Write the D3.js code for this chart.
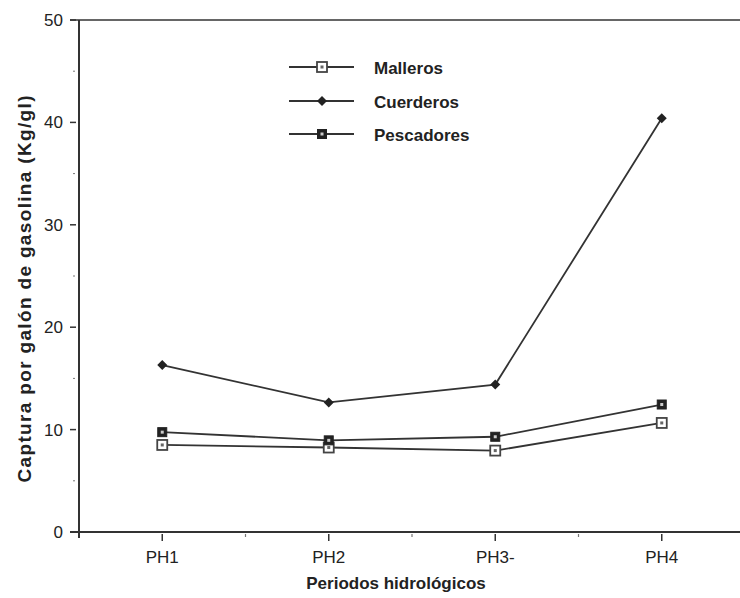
<!DOCTYPE html>
<html>
<head>
<meta charset="utf-8">
<script src="https://cdn.jsdelivr.net/npm/d3@7"></script>
<style>
  body { margin: 0; background: #fff; }
  text { font-family: "Liberation Sans", Arial, sans-serif; fill: #222; }
</style>
</head>
<body>
<div id="chart"></div>
<script>
// Data
const categories = ["PH1", "PH2", "PH3", "PH4"];
const tickLabels = ["PH1", "PH2", "PH3-", "PH4"];
const malleros = [8.5, 8.25, 7.95, 10.65];
const cuerderos = [16.3, 12.65, 14.4, 40.4];
const pescadores = [9.75, 8.95, 9.3, 12.45];
const yTicks = [0, 10, 20, 30, 40, 50];
const yMinor = [5, 15, 25, 35, 45];

const series = [
  { name: "Malleros", values: malleros, marker: "open" },
  { name: "Cuerderos", values: cuerderos, marker: "diamond" },
  { name: "Pescadores", values: pescadores, marker: "filled" }
];

const width = 740, height = 598;
const svg = d3.select("#chart").append("svg")
    .attr("width", width)
    .attr("height", height);

// categories sit at 1,3,5,7 of an 8-step band starting at the y axis
const x = d3.scaleLinear().domain([0, 8]).range([79, 745]);
const catPos = d => 1 + 2 * categories.indexOf(d);
const y = d3.scaleLinear().domain([0, 50]).range([532, 20]);

const ink = "#333";

// y axis
svg.append("line")
    .attr("x1", x(0)).attr("x2", x(0))
    .attr("y1", y(50)).attr("y2", y(0) + 6)
    .attr("stroke", ink).attr("stroke-width", 2);
// top border line
svg.append("line")
    .attr("x1", x(0) - 9).attr("x2", width)
    .attr("y1", y(50)).attr("y2", y(50))
    .attr("stroke", ink).attr("stroke-width", 1.5);
// x axis
svg.append("line")
    .attr("x1", x(0) - 9).attr("x2", width)
    .attr("y1", y(0)).attr("y2", y(0))
    .attr("stroke", ink).attr("stroke-width", 2);

// y ticks + labels
svg.selectAll(".ytick").data(yTicks).enter().append("line")
    .attr("x1", x(0) - 9).attr("x2", x(0) - 3)
    .attr("y1", d => y(d)).attr("y2", d => y(d))
    .attr("stroke", ink).attr("stroke-width", 1.5);
svg.selectAll(".yminor").data(yMinor).enter().append("line")
    .attr("x1", x(0) - 6).attr("x2", x(0) - 4)
    .attr("y1", d => y(d)).attr("y2", d => y(d))
    .attr("stroke", "#777").attr("stroke-width", 1);
svg.selectAll(".ylab").data(yTicks).enter().append("text")
    .attr("x", 63).attr("y", d => y(d) + 6)
    .attr("text-anchor", "end")
    .style("font-size", "17px")
    .text(d => d);

// x ticks: major under categories, minor between
const xMajor = categories.map(catPos);
const xMinor = [2, 4, 6];
svg.selectAll(".xtick").data(xMajor).enter().append("line")
    .attr("x1", d => x(d)).attr("x2", d => x(d))
    .attr("y1", y(0) + 2).attr("y2", y(0) + 9)
    .attr("stroke", ink).attr("stroke-width", 1.5);
svg.selectAll(".xminor").data(xMinor).enter().append("line")
    .attr("x1", d => x(d)).attr("x2", d => x(d))
    .attr("y1", y(0) + 2).attr("y2", y(0) + 5)
    .attr("stroke", "#777").attr("stroke-width", 1.2);
svg.selectAll(".xlab").data(categories).enter().append("text")
    .attr("x", d => x(catPos(d)))
    .attr("y", 563)
    .attr("text-anchor", "middle")
    .style("font-size", "17px")
    .text((d, i) => tickLabels[i]);

// axis titles
svg.append("text")
    .attr("x", 396).attr("y", 589)
    .attr("text-anchor", "middle")
    .style("font-size", "17px").style("font-weight", "bold")
    .text("Periodos hidrológicos");
svg.append("text")
    .attr("transform", "translate(31,289) rotate(-90)")
    .attr("text-anchor", "middle")
    .attr("textLength", 387)
    .attr("lengthAdjust", "spacing")
    .style("font-size", "19px").style("font-weight", "bold")
    .text("Captura por galón de gasolina (Kg/gl)");

// markers
function drawMarker(g, type) {
  if (type === "open") {
    g.append("rect").attr("x", -5).attr("y", -5).attr("width", 10).attr("height", 10)
        .attr("fill", "#fff").attr("stroke", "#444").attr("stroke-width", 1.8);
    g.append("rect").attr("x", -1.5).attr("y", -1.5).attr("width", 3).attr("height", 3)
        .attr("fill", "#666");
  } else if (type === "filled") {
    g.append("rect").attr("x", -4.5).attr("y", -4.5).attr("width", 9).attr("height", 9)
        .attr("fill", "#222").attr("stroke", "#222").attr("stroke-width", 1);
    g.append("rect").attr("x", -1.5).attr("y", -1.5).attr("width", 3).attr("height", 3)
        .attr("fill", "#ccc");
  } else {
    g.append("path").attr("d", "M0,-5L5,0L0,5L-5,0Z").attr("fill", "#222");
  }
}

const line = d3.line()
    .x((d, i) => x(catPos(categories[i])))
    .y(d => y(d));

series.forEach(s => {
  svg.append("path")
      .datum(s.values)
      .attr("d", line)
      .attr("fill", "none")
      .attr("stroke", ink)
      .attr("stroke-width", 1.8);
});
series.forEach(s => {
  s.values.forEach((v, i) => {
    const g = svg.append("g")
        .attr("transform", `translate(${x(catPos(categories[i]))},${y(v)})`);
    drawMarker(g, s.marker);
  });
});

// legend
const legendY = [67, 101, 134];
series.forEach((s, i) => {
  const g = svg.append("g").attr("transform", `translate(0,${legendY[i]})`);
  g.append("line").attr("x1", 289).attr("x2", 354).attr("y1", 0).attr("y2", 0)
      .attr("stroke", ink).attr("stroke-width", 1.8);
  const m = g.append("g").attr("transform", "translate(322,0)");
  drawMarker(m, s.marker);
  g.append("text").attr("x", 374).attr("y", 7)
      .style("font-size", "17px").style("font-weight", "bold")
      .text(s.name);
});
</script>
</body>
</html>
